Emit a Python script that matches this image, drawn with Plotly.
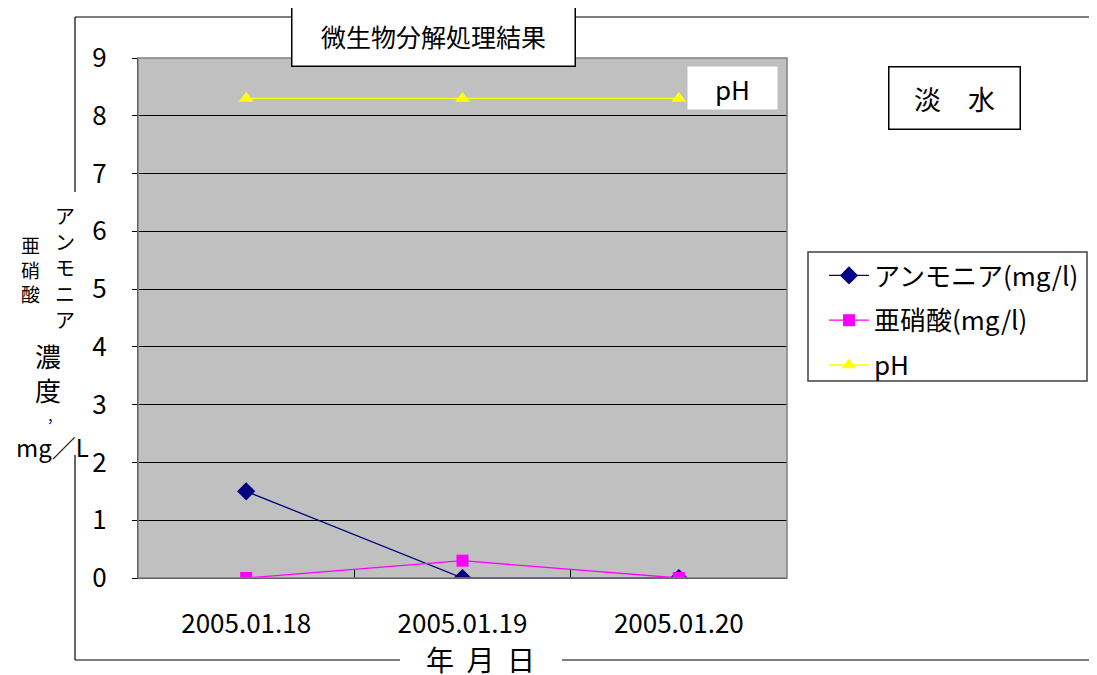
import plotly.graph_objects as go

dates = ["2005.01.18", "2005.01.19", "2005.01.20"]
ammonia = [1.5, 0.0, 0.0]
nitrite = [0.0, 0.3, 0.0]
ph = [8.3, 8.3, 8.3]
yticks = list(range(0, 10))

W, H = 1097, 675
OFF = 8  # page body margin offset
L, R, T, B = 138, 787, 58, 578  # plot area in page pixels
FONT = "Noto Sans CJK JP"


def px(x):
    return (x - L) / (R - L)


def py(y):
    return (B - y) / (B - T)


fig = go.Figure()
fig.add_trace(go.Scatter(x=dates, y=ammonia, name="アンモニア(mg/l)", mode="lines+markers",
                         legendgroup="a",
                         line=dict(color="#000080", width=1.3),
                         marker=dict(symbol="diamond", size=14, color="#000080")))
fig.add_trace(go.Scatter(x=dates, y=nitrite, name="亜硝酸(mg/l)", mode="lines+markers",
                         legendgroup="b",
                         line=dict(color="#FF00FF", width=1.3),
                         marker=dict(symbol="square", size=12, color="#FF00FF")))
fig.add_trace(go.Scatter(x=dates, y=ph, name="pH", mode="lines+markers",
                         legendgroup="c",
                         line=dict(color="#FFFF00", width=1.3),
                         marker=dict(symbol="triangle-up", size=13, color="#FFFF00")))

shapes = []
shapes.append(dict(type="rect", xref="paper", yref="paper", x0=0, x1=1, y0=0, y1=1,
                   line=dict(color="#808080", width=1.5), layer="above"))
segs = [((75, 17), (1110, 17)), ((75, 17), (75, 192)), ((75, 455), (75, 660)),
        ((75, 660), (400, 660)), ((562, 660), (1110, 660))]
for (x0, y0), (x1, y1) in segs:
    shapes.append(dict(type="line", xref="paper", yref="paper", x0=px(x0), y0=py(y0),
                       x1=px(x1), y1=py(y1), line=dict(color="black", width=1.2)))
# legend frame
shapes.append(dict(type="rect", xref="paper", yref="paper", x0=px(808), x1=px(1087),
                   y0=py(381), y1=py(252), fillcolor="white",
                   line=dict(color="#404040", width=1.5)))

ann = []


def A(text, x, y, size, color="black", **kw):
    d = dict(text=text, xref="paper", yref="paper", x=px(x), y=py(y), showarrow=False,
             xanchor="center", yanchor="middle",
             font=dict(family=FONT, size=size, color=color))
    d.update(kw)
    ann.append(d)


A("微生物分解処理結果", 433, 36, 25, bgcolor="white", bordercolor="black", borderwidth=1.5,
  width=280, height=58)
A("pH", 732, 88, 26, bgcolor="white", width=87, height=40)
A("淡　水", 954, 98, 27, bgcolor="white", bordercolor="black", borderwidth=1.5,
  width=128, height=59)
A("年  月  日", 480, 659, 28)
A("ア<br>ン<br>モ<br>ニ<br>ア", 65, 267, 20)
A("亜<br>硝<br>酸", 30, 269, 19)
A("濃<br>度", 48, 372, 26)
A("，", 54, 416, 14, color="#000080")
A("mg／L", 52, 446, 24)

fig.update_layout(
    width=W, height=H,
    margin=dict(l=L - OFF, r=W - (R - OFF), t=T - OFF, b=H - (B - OFF)),
    paper_bgcolor="white", plot_bgcolor="#C0C0C0",
    font=dict(family=FONT, size=22, color="black"),
    showlegend=True,
    legend=dict(x=px(824), y=py(252), xanchor="left", yanchor="top",
                bgcolor="rgba(0,0,0,0)", borderwidth=0,
                font=dict(family=FONT, size=26, color="black"),
                tracegroupgap=8, itemwidth=40),
    xaxis=dict(type="category", range=[-0.5, 2.5], showgrid=False, showline=True,
               linecolor="black", linewidth=1, ticks="inside", tickson="boundaries",
               ticklen=8, tickcolor="black", ticklabelstandoff=23,
               tickfont=dict(family=FONT, size=26, color="black")),
    yaxis=dict(range=[0, 9], tickvals=yticks, showgrid=True, gridcolor="black", gridwidth=1,
               showline=True, linecolor="black", linewidth=1, ticks="outside", ticklen=5,
               tickcolor="black", zeroline=False, ticklabelstandoff=20,
               tickfont=dict(family=FONT, size=26, color="black")),
    shapes=shapes, annotations=ann,
)

fig.write_html("out.html")
